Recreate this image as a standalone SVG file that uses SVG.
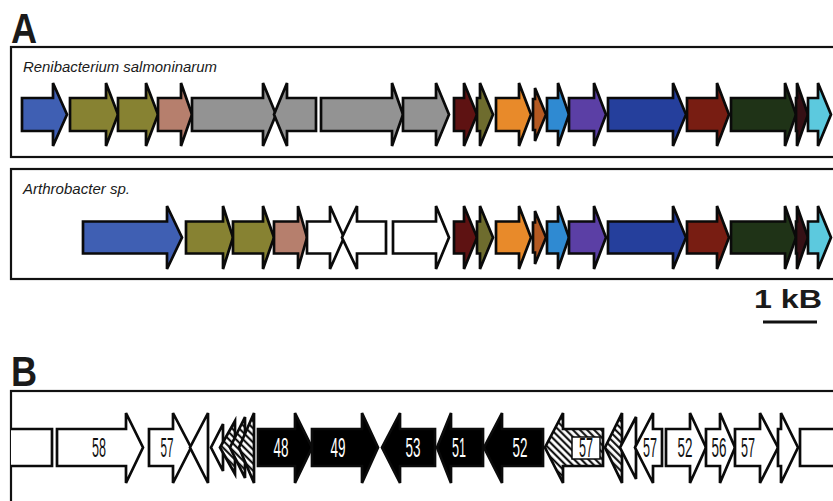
<svg xmlns="http://www.w3.org/2000/svg" width="833" height="501" viewBox="0 0 833 501">
  <style>
    .frame { fill: #ffffff; stroke: #111111; stroke-width: 2.2; }
    .gene { stroke: #0a0a0a; stroke-width: 2.7; stroke-linejoin: miter; }
    .w { fill: #ffffff; }
    .k { fill: #000000; }
    .panel { font-family: "Liberation Sans", Arial, sans-serif; font-weight: bold; fill: #1a1a1a; }
    .species { font-family: "Liberation Sans", Arial, sans-serif; font-style: italic; font-size: 15px; fill: #1a1a1a; }
    .num { font-family: "Liberation Sans", Arial, sans-serif; font-size: 27px; text-anchor: middle; }
    .nk { fill: #111111; }
    .nw { fill: #ffffff; }
  </style>
  <defs>
    <pattern id="hatch" patternUnits="userSpaceOnUse" width="5" height="5" patternTransform="rotate(-45)">
      <rect width="5" height="5" fill="#ffffff"/>
      <line x1="1.2" y1="0" x2="1.2" y2="5" stroke="#000000" stroke-width="2"/>
    </pattern>
  </defs>

  <rect width="833" height="501" fill="#ffffff"/>

  <!-- Panel A -->
  <text class="panel" x="11" y="43" font-size="42" transform="translate(11 0) scale(0.86 1) translate(-11 0)">A</text>

  <!-- Track 1: Renibacterium salmoninarum -->
  <g id="trackA1">
    <rect class="frame" x="11" y="47" width="830" height="110"/>
    <text class="species" x="23" y="72" textLength="194" lengthAdjust="spacingAndGlyphs">Renibacterium salmoninarum</text>
    <g id="a1-g1"><path class="gene" fill="#3f5fb3" d="M22,98 H53 V83 L67,114.5 L53,146 V131 H22 Z"/></g>
    <g id="a1-g2"><path class="gene" fill="#878232" d="M70,98 H106 V83 L118,114.5 L106,146 V131 H70 Z"/></g>
    <g id="a1-g3"><path class="gene" fill="#878232" d="M118,98 H146 V83 L158,114.5 L146,146 V131 H118 Z"/></g>
    <g id="a1-g4"><path class="gene" fill="#b67f6d" d="M158,98 H181 V83 L192,114.5 L181,146 V131 H158 Z"/></g>
    <g id="a1-g5"><path class="gene" fill="#939393" d="M192,98 H263 V83 L276,114.5 L263,146 V131 H192 Z"/></g>
    <g id="a1-g6"><path class="gene" fill="#939393" d="M316,98 H287 V83 L274,114.5 L287,146 V131 H316 Z"/></g>
    <g id="a1-g7"><path class="gene" fill="#939393" d="M321,98 H392 V83 L403,114.5 L392,146 V131 H321 Z"/></g>
    <g id="a1-g8"><path class="gene" fill="#939393" d="M403,98 H436 V83 L449,114.5 L436,146 V131 H403 Z"/></g>
    <g id="a1-g9"><path class="gene" fill="#5e1212" d="M454,98 H464 V83 L477,114.5 L464,146 V131 H454 Z"/></g>
    <g id="a1-g10"><path class="gene" fill="#6e6c2e" d="M477,98 H480 V83 L493,114.5 L480,146 V131 H477 Z"/></g>
    <g id="a1-g11"><path class="gene" fill="#e88a2a" d="M496,98 H519 V83 L531,114.5 L519,146 V131 H496 Z"/></g>
    <g id="a1-g12"><path class="gene" fill="#b55a22" d="M533,99 H535 V88 L546,114.5 L535,141 V130 H533 Z"/></g>
    <g id="a1-g13"><path class="gene" fill="#2f8ad2" d="M547,98 H558 V83 L569,114.5 L558,146 V131 H547 Z"/></g>
    <g id="a1-g14"><path class="gene" fill="#5b3fa5" d="M569,98 H594 V83 L606,114.5 L594,146 V131 H569 Z"/></g>
    <g id="a1-g15"><path class="gene" fill="#253f9c" d="M608,98 H673 V83 L686,114.5 L673,146 V131 H608 Z"/></g>
    <g id="a1-g16"><path class="gene" fill="#781d12" d="M687,98 H717 V83 L729,114.5 L717,146 V131 H687 Z"/></g>
    <g id="a1-g17"><path class="gene" fill="#1f3317" d="M731,98 H785 V83 L796,114.5 L785,146 V131 H731 Z"/></g>
    <g id="a1-g18"><path class="gene" fill="#351015" d="M796,98 H797 V83 L808,114.5 L797,146 V131 H796 Z"/></g>
    <g id="a1-g19"><path class="gene" fill="#5cc9de" d="M808,98 H818 V83 L831,114.5 L818,146 V131 H808 Z"/></g>
  </g>

  <!-- Track 2: Arthrobacter sp. -->
  <g id="trackA2">
    <rect class="frame" x="11" y="169" width="830" height="110"/>
    <text class="species" x="23" y="194" textLength="107" lengthAdjust="spacingAndGlyphs">Arthrobacter sp.</text>
    <g id="a2-g1"><path class="gene" fill="#3f5fb3" d="M83,221.5 H167 V206 L182,237.5 L167,269 V253.5 H83 Z"/></g>
    <g id="a2-g2"><path class="gene" fill="#878232" d="M186,221.5 H223 V206 L233,237.5 L223,269 V253.5 H186 Z"/></g>
    <g id="a2-g3"><path class="gene" fill="#878232" d="M233,221.5 H263 V206 L274,237.5 L263,269 V253.5 H233 Z"/></g>
    <g id="a2-g4"><path class="gene" fill="#b67f6d" d="M274,221.5 H298 V206 L307,237.5 L298,269 V253.5 H274 Z"/></g>
    <g id="a2-g5"><path class="gene w" d="M307,221.5 H330 V206 L344,237.5 L330,269 V253.5 H307 Z"/></g>
    <g id="a2-g6"><path class="gene w" d="M386,221.5 H357 V206 L342,237.5 L357,269 V253.5 H386 Z"/></g>
    <g id="a2-g7"><path class="gene w" d="M393,221.5 H436 V206 L449,237.5 L436,269 V253.5 H393 Z"/></g>
    <g id="a2-g8"><path class="gene" fill="#5e1212" d="M454,221.5 H464 V206 L477,237.5 L464,269 V253.5 H454 Z"/></g>
    <g id="a2-g9"><path class="gene" fill="#6e6c2e" d="M477,221.5 H480 V206 L493,237.5 L480,269 V253.5 H477 Z"/></g>
    <g id="a2-g10"><path class="gene" fill="#e88a2a" d="M496,221.5 H519 V206 L531,237.5 L519,269 V253.5 H496 Z"/></g>
    <g id="a2-g11"><path class="gene" fill="#b55a22" d="M533,222.5 H535 V211 L546,237.5 L535,264 V252.5 H533 Z"/></g>
    <g id="a2-g12"><path class="gene" fill="#2f8ad2" d="M547,221.5 H558 V206 L569,237.5 L558,269 V253.5 H547 Z"/></g>
    <g id="a2-g13"><path class="gene" fill="#5b3fa5" d="M569,221.5 H594 V206 L606,237.5 L594,269 V253.5 H569 Z"/></g>
    <g id="a2-g14"><path class="gene" fill="#253f9c" d="M608,221.5 H673 V206 L686,237.5 L673,269 V253.5 H608 Z"/></g>
    <g id="a2-g15"><path class="gene" fill="#781d12" d="M687,221.5 H717 V206 L729,237.5 L717,269 V253.5 H687 Z"/></g>
    <g id="a2-g16"><path class="gene" fill="#1f3317" d="M731,221.5 H785 V206 L796,237.5 L785,269 V253.5 H731 Z"/></g>
    <g id="a2-g17"><path class="gene" fill="#351015" d="M796,221.5 H797 V206 L808,237.5 L797,269 V253.5 H796 Z"/></g>
    <g id="a2-g18"><path class="gene" fill="#5cc9de" d="M808,221.5 H818 V206 L831,237.5 L818,269 V253.5 H808 Z"/></g>
  </g>

  <!-- Scale bar -->
  <g id="scale">
    <text class="panel" x="754" y="308" font-size="26" textLength="68" lengthAdjust="spacingAndGlyphs">1 kB</text>
    <line x1="763" y1="322" x2="817" y2="322" stroke="#111111" stroke-width="3.2"/>
  </g>

  <!-- Panel B -->
  <text class="panel" x="11" y="386" font-size="42" transform="translate(11 0) scale(0.86 1) translate(-11 0)">B</text>

  <g id="trackB">
    <rect class="frame" x="11" y="391" width="830" height="120"/>
    <g id="b-r1"><path class="gene w" d="M11,429 H52 V466 H11"/></g>
    <g id="b-58"><path class="gene w" d="M57,429 H126 V413 L143,447.5 L126,483 V466 H57 Z"/><text class="num nk" x="99" y="457" textLength="14" lengthAdjust="spacingAndGlyphs">58</text></g>
    <g id="b-57a"><path class="gene w" d="M149,429 H173 V413 L191,447.5 L173,483 V466 H149 Z"/><text class="num nk" x="167" y="457" textLength="13" lengthAdjust="spacingAndGlyphs">57</text></g>
    <g id="b-t1"><path class="gene w" d="M208,413 L190,447.5 L208,483 Z"/></g>
    <g id="b-t2"><path class="gene w" d="M223,424 L211,447.5 L223,471 Z"/></g>
    <g id="b-t3"><path class="gene" fill="url(#hatch)" d="M235,421 L220,447.5 L235,474 Z"/></g>
    <g id="b-t4"><path class="gene" fill="url(#hatch)" d="M245,417 L230,447.5 L245,478 Z"/></g>
    <g id="b-t5"><path class="gene" fill="url(#hatch)" d="M254,413 L239,447.5 L254,483 Z"/></g>
    <g id="b-48"><path class="gene k" d="M258,429 H295 V413 L312,447.5 L295,483 V466 H258 Z"/><text class="num nw" x="281" y="457" textLength="15" lengthAdjust="spacingAndGlyphs">48</text></g>
    <g id="b-49"><path class="gene k" d="M312,429 H362 V413 L378,447.5 L362,483 V466 H312 Z"/><text class="num nw" x="338" y="457" textLength="15" lengthAdjust="spacingAndGlyphs">49</text></g>
    <g id="b-53"><path class="gene k" d="M435,429 H400 V413 L382,447.5 L400,483 V466 H435 Z"/><text class="num nw" x="413" y="457" textLength="15" lengthAdjust="spacingAndGlyphs">53</text></g>
    <g id="b-51"><path class="gene k" d="M483,429 H451 V413 L437,447.5 L451,483 V466 H483 Z"/><text class="num nw" x="459" y="457" textLength="14" lengthAdjust="spacingAndGlyphs">51</text></g>
    <g id="b-52a"><path class="gene k" d="M543,429 H502 V413 L484,447.5 L502,483 V466 H543 Z"/><text class="num nw" x="520" y="457" textLength="15" lengthAdjust="spacingAndGlyphs">52</text></g>
    <g id="b-57b">
      <path class="gene" fill="url(#hatch)" d="M603,429 H563 V413 L545,447.5 L563,483 V466 H603 Z"/>
      <rect x="572" y="437" width="28" height="22" fill="#ffffff" stroke="#0a0a0a" stroke-width="1.5"/>
      <text class="num nk" x="586" y="457" textLength="14" lengthAdjust="spacingAndGlyphs">57</text>
    </g>
    <g id="b-t6"><path class="gene" fill="url(#hatch)" d="M622,413 L605,447.5 L622,483 Z"/></g>
    <g id="b-t7"><path class="gene w" d="M636,417 L620,447.5 L636,479 Z"/></g>
    <g id="b-57c"><path class="gene w" d="M662,429 H653 V413 L635,447.5 L653,483 V466 H662 Z"/><text class="num nk" x="650" y="457" textLength="14" lengthAdjust="spacingAndGlyphs">57</text></g>
    <g id="b-52b"><path class="gene w" d="M666,429 H690 V413 L706,447.5 L690,483 V466 H666 Z"/><text class="num nk" x="685" y="457" textLength="15" lengthAdjust="spacingAndGlyphs">52</text></g>
    <g id="b-56"><path class="gene w" d="M706,429 H720 V413 L735,447.5 L720,483 V466 H706 Z"/><text class="num nk" x="719" y="457" textLength="15" lengthAdjust="spacingAndGlyphs">56</text></g>
    <g id="b-57d"><path class="gene w" d="M735,429 H760 V413 L778,447.5 L760,483 V466 H735 Z"/><text class="num nk" x="748" y="457" textLength="14" lengthAdjust="spacingAndGlyphs">57</text></g>
    <g id="b-g"><path class="gene w" d="M778,429 H781 V413 L798,447.5 L781,483 V466 H778 Z"/></g>
    <g id="b-r2"><path class="gene w" d="M840,429 H800 V466 H840"/></g>
  </g>
</svg>
